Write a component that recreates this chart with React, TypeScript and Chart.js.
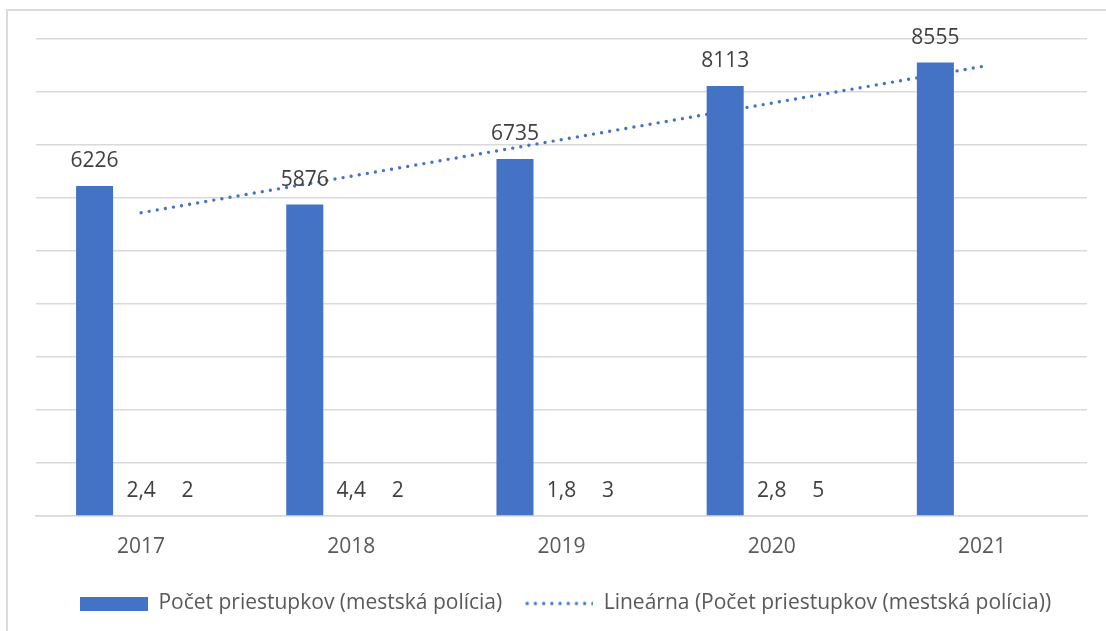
import React, { useEffect, useRef } from 'react';
import { Chart, registerables } from 'chart.js';

Chart.register(...registerables);

// ---- data ----
const categories = ['2017', '2018', '2019', '2020', '2021'];
const offenses = [6226, 5876, 6735, 8113, 8555];
const seriesB: (number | null)[] = [2.4, 4.4, 1.8, 2.8, null];
const seriesC: (number | null)[] = [2, 2, 3, 5, null];
const yMin = 0;
const yMax = 9000;
const yStep = 1000;

const seriesLabel = 'Počet priestupkov (mestská polícia)';
const trendLabel = 'Lineárna (Počet priestupkov (mestská polícia))';

const BLUE = '#4472C4';
const FONT = "'Open Sans', 'Noto Sans', sans-serif";

// linear least-squares trendline (as the spreadsheet's "Lineárna" trendline)
function linearTrend(values: number[]): number[] {
  const n = values.length;
  const xs = values.map((_, i) => i + 1);
  const mx = xs.reduce((a, b) => a + b, 0) / n;
  const my = values.reduce((a, b) => a + b, 0) / n;
  let num = 0;
  let den = 0;
  xs.forEach((x, i) => {
    num += (x - mx) * (values[i] - my);
    den += (x - mx) * (x - mx);
  });
  const slope = num / den;
  const icpt = my - slope * mx;
  return xs.map((x) => icpt + slope * x);
}

const valueLabels = {
  id: 'valueLabels',
  afterDatasetsDraw(chart: any) {
    const ctx = chart.ctx;
    ctx.save();
    ctx.font = `21px ${FONT}`;
    ctx.fillStyle = '#404040';
    ctx.textAlign = 'center';
    ctx.textBaseline = 'middle';
    chart.data.datasets.forEach((ds: any, di: number) => {
      if (ds.type !== 'bar') return;
      const meta = chart.getDatasetMeta(di);
      meta.data.forEach((el: any, i: number) => {
        const v = ds.data[i];
        if (v === null || v === undefined) return;
        ctx.fillText(String(v).replace('.', ','), el.x, el.y - 25);
      });
    });
    ctx.restore();
  },
};

function makeBarSwatch(): HTMLCanvasElement {
  const c = document.createElement('canvas');
  c.width = 68;
  c.height = 14;
  const g = c.getContext('2d')!;
  g.fillStyle = BLUE;
  g.fillRect(0, 0, 68, 14);
  return c;
}

function makeLineSwatch(): HTMLCanvasElement {
  const c = document.createElement('canvas');
  c.width = 68;
  c.height = 14;
  const g = c.getContext('2d')!;
  g.fillStyle = BLUE;
  for (let x = 2; x < 68; x += 8.2) {
    g.beginPath();
    g.arc(x, 7, 1.7, 0, Math.PI * 2);
    g.fill();
  }
  return c;
}

export default function App() {
  const ref = useRef<HTMLCanvasElement | null>(null);

  useEffect(() => {
    if (!ref.current) return;
    const barImg = makeBarSwatch();
    const lineImg = makeLineSwatch();
    const trend = linearTrend(offenses);

    const chart = new Chart(ref.current, {
      type: 'bar',
      data: {
        labels: categories,
        datasets: [
          {
            type: 'bar',
            label: seriesLabel,
            data: offenses,
            backgroundColor: BLUE,
            categoryPercentage: 0.664,
            barPercentage: 0.796,
            order: 1,
          } as any,
          {
            type: 'bar',
            label: 'B',
            data: seriesB,
            backgroundColor: 'rgba(0,0,0,0)',
            categoryPercentage: 0.664,
            barPercentage: 0.796,
            order: 1,
          } as any,
          {
            type: 'bar',
            label: 'C',
            data: seriesC,
            backgroundColor: 'rgba(0,0,0,0)',
            categoryPercentage: 0.664,
            barPercentage: 0.796,
            order: 1,
          } as any,
          {
            type: 'line',
            label: trendLabel,
            data: trend,
            borderColor: BLUE,
            backgroundColor: BLUE,
            borderWidth: 3.4,
            borderDash: [0, 8.2],
            borderCapStyle: 'round',
            pointRadius: 0,
            fill: false,
            order: 2,
          } as any,
        ],
      },
      options: {
        responsive: false,
        devicePixelRatio: 1,
        animation: false,
        layout: { padding: { left: 25, right: 0, top: 39, bottom: 7 } },
        scales: {
          x: {
            grid: { display: false, drawTicks: false },
            border: { display: true, color: '#d9d9d9', width: 1.5 },
            ticks: {
              color: '#595959',
              font: { family: FONT, size: 21 },
              padding: 18,
            },
            afterFit: (s: any) => {
              s.height = 54;
            },
          },
          y: {
            min: yMin,
            max: yMax,
            ticks: { display: false, stepSize: yStep },
            grid: { color: '#d9d9d9', lineWidth: 1.5, drawTicks: false },
            border: { display: false },
            afterFit: (s: any) => {
              s.width = 11;
            },
          },
          y2: {
            position: 'right',
            min: yMin,
            max: yMax,
            ticks: { display: false },
            grid: { display: false, drawTicks: false },
            border: { display: false },
            afterFit: (s: any) => {
              s.width = 19;
            },
          },
        },
        plugins: {
          tooltip: { enabled: false },
          legend: {
            position: 'bottom',
            labels: {
              color: '#595959',
              font: { family: FONT, size: 21 },
              usePointStyle: true,
              pointStyleWidth: 68,
              boxHeight: 14,
              padding: 23,
              generateLabels: (c: any) => {
                const items = (Chart.defaults.plugins.legend.labels as any).generateLabels(c);
                return items
                  .filter((it: any) => it.datasetIndex === 0 || it.datasetIndex === 3)
                  .map((it: any) => ({
                    ...it,
                    pointStyle: it.datasetIndex === 0 ? barImg : lineImg,
                  }));
              },
            },
          },
        },
      } as any,
      plugins: [valueLabels],
    });
    return () => chart.destroy();
  }, []);

  return (
    <div
      style={{
        position: 'fixed',
        left: 0,
        top: 0,
        width: 1106,
        height: 631,
        overflow: 'hidden',
        background: '#ffffff',
      }}
    >
      <div
        style={{
          position: 'absolute',
          left: 6,
          top: 9,
          width: 1200,
          height: 700,
          border: '2px solid #dcdcdc',
          boxSizing: 'border-box',
        }}
      />
      <canvas
        ref={ref}
        width={1106}
        height={631}
        style={{ position: 'absolute', left: 0, top: 0, display: 'block' }}
      />
    </div>
  );
}
